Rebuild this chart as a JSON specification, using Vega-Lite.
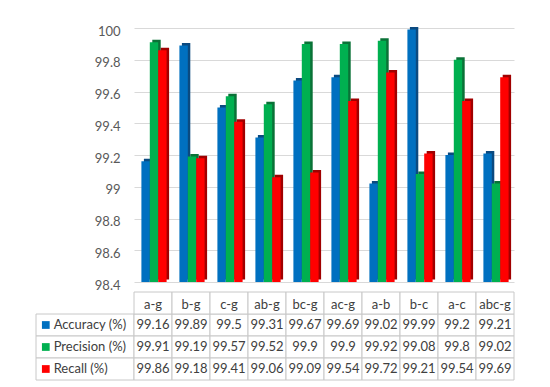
{
  "$schema": "https://vega.github.io/schema/vega-lite/v6.json",
  "padding": {"left": 35, "top": 25, "right": 0, "bottom": 0},
  "background": "white",
  "spacing": -18,
  "config": {"font": "Lato", "view": {"stroke": null}, "concat": {"spacing": 0}},
  "datasets": {
    "scores": [
      {"cat": "a-g", "series": "Accuracy (%)", "value": 99.16},
      {"cat": "b-g", "series": "Accuracy (%)", "value": 99.89},
      {"cat": "c-g", "series": "Accuracy (%)", "value": 99.5},
      {"cat": "ab-g", "series": "Accuracy (%)", "value": 99.31},
      {"cat": "bc-g", "series": "Accuracy (%)", "value": 99.67},
      {"cat": "ac-g", "series": "Accuracy (%)", "value": 99.69},
      {"cat": "a-b", "series": "Accuracy (%)", "value": 99.02},
      {"cat": "b-c", "series": "Accuracy (%)", "value": 99.99},
      {"cat": "a-c", "series": "Accuracy (%)", "value": 99.2},
      {"cat": "abc-g", "series": "Accuracy (%)", "value": 99.21},
      {"cat": "a-g", "series": "Precision  (%)", "value": 99.91},
      {"cat": "b-g", "series": "Precision  (%)", "value": 99.19},
      {"cat": "c-g", "series": "Precision  (%)", "value": 99.57},
      {"cat": "ab-g", "series": "Precision  (%)", "value": 99.52},
      {"cat": "bc-g", "series": "Precision  (%)", "value": 99.9},
      {"cat": "ac-g", "series": "Precision  (%)", "value": 99.9},
      {"cat": "a-b", "series": "Precision  (%)", "value": 99.92},
      {"cat": "b-c", "series": "Precision  (%)", "value": 99.08},
      {"cat": "a-c", "series": "Precision  (%)", "value": 99.8},
      {"cat": "abc-g", "series": "Precision  (%)", "value": 99.02},
      {"cat": "a-g", "series": "Recall (%)", "value": 99.86},
      {"cat": "b-g", "series": "Recall (%)", "value": 99.18},
      {"cat": "c-g", "series": "Recall (%)", "value": 99.41},
      {"cat": "ab-g", "series": "Recall (%)", "value": 99.06},
      {"cat": "bc-g", "series": "Recall (%)", "value": 99.09},
      {"cat": "ac-g", "series": "Recall (%)", "value": 99.54},
      {"cat": "a-b", "series": "Recall (%)", "value": 99.72},
      {"cat": "b-c", "series": "Recall (%)", "value": 99.21},
      {"cat": "a-c", "series": "Recall (%)", "value": 99.54},
      {"cat": "abc-g", "series": "Recall (%)", "value": 99.69}
    ],
    "rows": [
      {"series": "Accuracy (%)"},
      {"series": "Precision  (%)"},
      {"series": "Recall (%)"}
    ]
  },
  "vconcat": [
    {
      "bounds": "flush",
      "spacing": 0,
      "hconcat": [
        {
          "width": 98,
          "height": 254,
          "data": {"values": []},
          "mark": {"type": "rule"},
          "encoding": {}
        },
        {
          "width": 380,
          "height": 254,
          "data": {"name": "scores"},
          "encoding": {
            "x": {"field": "cat", "type": "nominal", "sort": null, "axis": null,
                  "scale": {"type": "band", "paddingInner": 0.34, "paddingOuter": 0.17}},
            "y": {"field": "value", "type": "quantitative",
                  "scale": {"domain": [98.4, 100], "zero": false, "nice": false},
                  "axis": {"title": null, "values": [98.4, 98.6, 98.8, 99, 99.2, 99.4, 99.6, 99.8, 100],
                           "format": "~f", "domain": false, "ticks": false, "labelPadding": 14, "labelOffset": 3,
                           "gridColor": "#d9d9d9", "labelColor": "#595959", "labelFontSize": 13}},
            "y2": {"datum": 98.4}
          },
          "layer": [
            {
              "transform": [{"filter": "datum.series == 'Accuracy (%)'"}],
              "mark": {"type": "bar", "width": 8.4, "xOffset": -4.9, "yOffset": -2.5, "y2Offset": -2.5, "color": "#0b4a80"}
            },
            {
              "transform": [{"filter": "datum.series == 'Precision  (%)'"}],
              "mark": {"type": "bar", "width": 8.4, "xOffset": 3.5, "yOffset": -2.5, "y2Offset": -2.5, "color": "#0a7237"}
            },
            {
              "transform": [{"filter": "datum.series == 'Recall (%)'"}],
              "mark": {"type": "bar", "width": 8.4, "xOffset": 11.9, "yOffset": -2.5, "y2Offset": -2.5, "color": "#a00000"}
            },
            {
              "transform": [{"filter": "datum.series == 'Accuracy (%)'"}],
              "mark": {"type": "bar", "width": 8.4, "xOffset": -7.4, "color": "#0070C0"}
            },
            {
              "transform": [{"filter": "datum.series == 'Precision  (%)'"}],
              "mark": {"type": "bar", "width": 8.4, "xOffset": 1, "color": "#00B050"}
            },
            {
              "transform": [{"filter": "datum.series == 'Recall (%)'"}],
              "mark": {"type": "bar", "width": 8.4, "xOffset": 9.4, "color": "#FF0000"}
            }
          ]
        }
      ]
    },
    {
      "bounds": "flush",
      "spacing": 0,
      "hconcat": [
        {
          "width": 98,
          "height": 88,
          "data": {"name": "rows"},
          "encoding": {
            "y": {"field": "series", "type": "nominal", "axis": null,
                  "scale": {"type": "band", "domain": ["hdr", "Accuracy (%)", "Precision  (%)", "Recall (%)"], "paddingInner": 0, "paddingOuter": 0}}
          },
          "layer": [
            {
              "mark": {"type": "rect", "fill": "white", "stroke": "#c8c8c8", "strokeWidth": 1},
              "encoding": {
                "x": {"datum": "k", "type": "nominal", "axis": null,
                      "scale": {"type": "band", "paddingInner": 0, "paddingOuter": 0}}
              }
            },
            {
              "mark": {"type": "point", "shape": "square", "filled": true, "size": 60, "opacity": 1},
              "encoding": {
                "x": {"datum": "k", "type": "nominal", "bandPosition": 0.1, "axis": null},
                "color": {"field": "series", "type": "nominal", "legend": null,
                          "scale": {"domain": ["Accuracy (%)", "Precision  (%)", "Recall (%)"],
                                    "range": ["#0070C0", "#00B050", "#FF0000"]}}
              }
            },
            {
              "mark": {"type": "text", "align": "left", "baseline": "middle", "fontSize": 13, "color": "#404040"},
              "encoding": {
                "x": {"datum": "k", "type": "nominal", "bandPosition": 0.18, "axis": null},
                "text": {"field": "series", "type": "nominal"}
              }
            }
          ]
        },
        {
          "width": 380,
          "height": 88,
          "data": {"name": "scores"},
          "encoding": {
            "x": {"field": "cat", "type": "nominal", "sort": null, "axis": null,
                  "scale": {"type": "band", "paddingInner": 0, "paddingOuter": 0}}
          },
          "layer": [
            {
              "mark": {"type": "rect", "fill": "white", "stroke": "#c8c8c8", "strokeWidth": 1},
              "encoding": {
                "y": {"field": "series", "type": "nominal", "axis": null,
                      "scale": {"type": "band", "domain": ["hdr", "Accuracy (%)", "Precision  (%)", "Recall (%)"], "paddingInner": 0, "paddingOuter": 0}}
              }
            },
            {
              "transform": [{"filter": "datum.series == 'Accuracy (%)'"}],
              "mark": {"type": "rect", "fill": "white", "stroke": "#c8c8c8", "strokeWidth": 1},
              "encoding": {
                "y": {"datum": "hdr", "type": "nominal"}
              }
            },
            {
              "mark": {"type": "text", "baseline": "middle", "fontSize": 13, "color": "#404040"},
              "encoding": {
                "y": {"field": "series", "type": "nominal"},
                "text": {"field": "value", "type": "nominal"}
              }
            },
            {
              "transform": [{"filter": "datum.series == 'Accuracy (%)'"}],
              "mark": {"type": "text", "baseline": "middle", "fontSize": 13, "color": "#404040", "dy": 2},
              "encoding": {
                "y": {"datum": "hdr", "type": "nominal"},
                "text": {"field": "cat", "type": "nominal"}
              }
            }
          ]
        }
      ]
    }
  ]
}
